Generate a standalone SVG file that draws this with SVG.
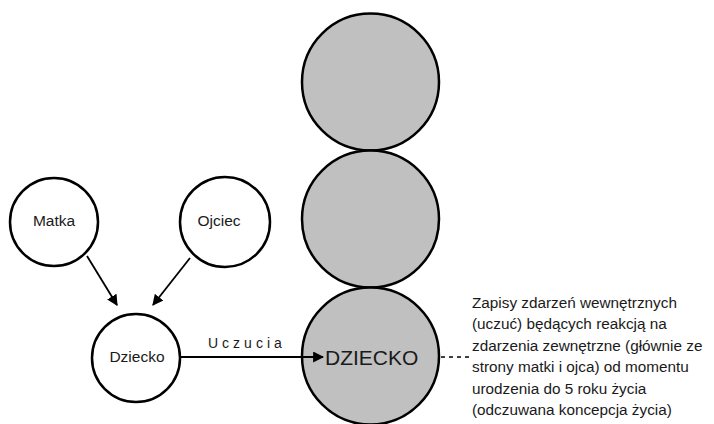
<svg xmlns="http://www.w3.org/2000/svg" width="714" height="424" viewBox="0 0 714 424">
  <style>
    .bg { fill: #ffffff; }
    .node-white { fill: #ffffff; stroke: #000000; stroke-width: 2.5; }
    .node-grey { fill: #c0c0c0; stroke: #000000; stroke-width: 2.5; }
    .label { font-family: "Liberation Sans", Arial, sans-serif; font-size: 15.5px; fill: #1a1a1a; text-anchor: middle; }
    .big { font-family: "Liberation Sans", Arial, sans-serif; font-size: 21px; fill: #1a1a1a; }
    .edge { stroke: #000000; stroke-width: 1.8; fill: none; }
    .dash { stroke: #000000; stroke-width: 1.3; stroke-dasharray: 4 4; fill: none; }
    .edge-label { font-family: "Liberation Sans", Arial, sans-serif; font-size: 14px; letter-spacing: 4px; fill: #1a1a1a; }
    .note { font-family: "Liberation Sans", Arial, sans-serif; font-size: 15.3px; fill: #1a1a1a; }
  </style>
  <defs>
    <marker id="arrow-lg" viewBox="0 0 10 10" refX="9" refY="5" markerWidth="11" markerHeight="11" markerUnits="userSpaceOnUse" orient="auto">
      <path d="M0,0 L10,5 L0,10 z" fill="#000000"/>
    </marker>
  </defs>
  <rect class="bg" x="0" y="0" width="714" height="424"/>

  <!-- stacked grey circles -->
  <g id="circle-top">
    <circle class="node-grey" cx="370.5" cy="82" r="68.5"/>
  </g>
  <g id="circle-middle">
    <circle class="node-grey" cx="370.5" cy="219" r="68.5"/>
  </g>
  <g id="circle-dziecko">
    <circle class="node-grey" cx="370.5" cy="356" r="68.5"/>
    <text class="big" x="325" y="365">DZIECKO</text>
  </g>

  <!-- left-hand family nodes -->
  <g id="matka">
    <circle class="node-white" cx="54" cy="222" r="44"/>
    <text class="label" x="54" y="226">Matka</text>
  </g>
  <g id="ojciec">
    <circle class="node-white" cx="225" cy="222" r="45"/>
    <text class="label" x="219" y="226">Ojciec</text>
  </g>
  <g id="dziecko">
    <circle class="node-white" cx="136" cy="358" r="44"/>
    <text class="label" x="137" y="362">Dziecko</text>
  </g>

  <!-- connectors -->
  <g id="connectors">
    <line class="edge" x1="87" y1="256" x2="117" y2="305" marker-end="url(#arrow-lg)"/>
    <line class="edge" x1="190" y1="258" x2="153" y2="305" marker-end="url(#arrow-lg)"/>
    <line class="edge" x1="180" y1="357" x2="323" y2="357" marker-end="url(#arrow-lg)"/>
    <text class="edge-label" x="208" y="348">Uczucia</text>
    <line class="dash" x1="441" y1="357" x2="472" y2="357"/>
  </g>

  <!-- annotation -->
  <g id="note">
    <text class="note" x="472" y="308">Zapisy zdarzeń wewnętrznych</text>
    <text class="note" x="472" y="329">(uczuć) będących reakcją na</text>
    <text class="note" x="472" y="351">zdarzenia zewnętrzne (głównie ze</text>
    <text class="note" x="472" y="372">strony matki i ojca) od momentu</text>
    <text class="note" x="472" y="394">urodzenia do 5 roku życia</text>
    <text class="note" x="472" y="415">(odczuwana koncepcja życia)</text>
  </g>
</svg>
